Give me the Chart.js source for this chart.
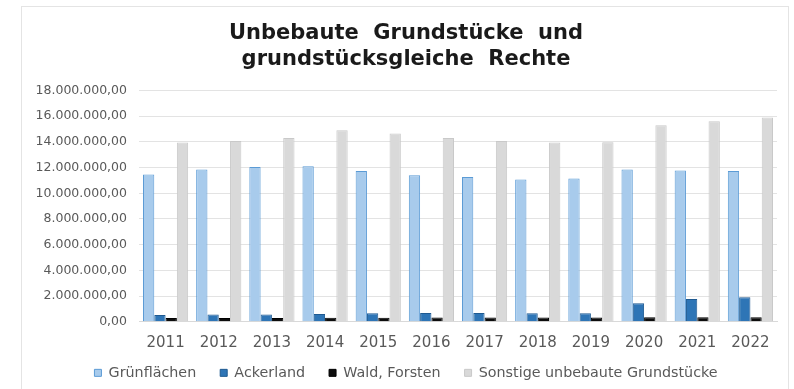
<!DOCTYPE html>
<html>
<head>
<meta charset="utf-8">
<script src="https://cdn.jsdelivr.net/npm/chart.js@4.4.0/dist/chart.umd.min.js"></script>
<style>
  body { margin: 0; background: #fff; }
  #frame { position: absolute; left: 21px; top: 6px; width: 766px; height: 382px; border: 1px solid #e4e4e4; }
  #wrap { position: absolute; left: 0; top: 0; width: 794px; height: 389px; }
</style>
</head>
<body>
<div id="frame"></div>
<div id="wrap"><canvas id="chart" width="794" height="389"></canvas></div>
<script>
// Jahre
const years = ["2011", "2012", "2013", "2014", "2015", "2016", "2017", "2018", "2019", "2020", "2021", "2022"];

// Werte
const gruenflaechen = [11460000, 11850000, 12050000, 12100000, 11740000, 11400000, 11270000, 11070000, 11150000, 11850000, 11770000, 11740000];
const ackerland = [520000, 560000, 560000, 600000, 650000, 680000, 680000, 650000, 650000, 1430000, 1770000, 1900000];
const waldForsten = [290000, 290000, 290000, 300000, 300000, 320000, 320000, 320000, 320000, 340000, 340000, 340000];
const sonstige = [13960000, 14060000, 14300000, 14900000, 14650000, 14300000, 14060000, 13960000, 13980000, 15300000, 15600000, 15900000];

const titleLines = ["Unbebaute  Grundstücke  und", "grundstücksgleiche  Rechte"];

function fmt(v) {
    let s = Math.round(v).toString().replace(/\B(?=(\d{3})+(?!\d))/g, ".");
    return s + ",00";
}

// Legende rückt per negativem Abstand etwas nach oben, damit die Jahreszahlen nicht abgeschnitten werden
const legendShift = {
    id: "legendShift",
    afterLayout(chart) {
        const lg = chart.legend;
        if (lg) { lg.top -= 12; lg.bottom -= 12; }
    }
};

let ctx = document.getElementById("chart").getContext("2d");
new Chart(ctx, {
    type: "bar",
    data: {
        labels: years,
        datasets: [
            { label: "Grünflächen", data: gruenflaechen, backgroundColor: "#a8cbec", borderColor: "#5b9bd5", borderWidth: 1 },
            { label: "Ackerland", data: ackerland, backgroundColor: "#2e75b6", borderColor: "#1f5a91", borderWidth: 1 },
            { label: "Wald, Forsten", data: waldForsten, backgroundColor: "#0d0d0d", borderColor: "#000", borderWidth: 1 },
            { label: "Sonstige unbebaute Grundstücke", data: sonstige, backgroundColor: "#d9d9d9", borderColor: "#c9c9c9", borderWidth: 1 }
        ]
    },
    options: {
        responsive: false,
        animation: false,
        layout: { padding: { left: 35, right: 17, top: 20, bottom: -13 } },
        datasets: { bar: { categoryPercentage: 0.85, barPercentage: 1.0 } },
        plugins: {
            title: {
                display: true,
                text: titleLines,
                color: "#1a1a1a",
                font: { family: "DejaVu Sans", size: 21, weight: "bold", lineHeight: 1.25 },
                padding: { top: 0, bottom: 18 }
            },
            legend: {
                position: "bottom",
                labels: {
                    color: "#595959",
                    font: { family: "DejaVu Sans", size: 14.3 },
                    boxWidth: 7,
                    boxHeight: 7,
                    padding: 24
                }
            },
            tooltip: { enabled: false }
        },
        scales: {
            x: {
                grid: { display: false, drawTicks: false },
                border: { color: "#d9d9d9" },
                afterFit: s => { s.height = 32; },
                ticks: { color: "#595959", font: { family: "DejaVu Sans", size: 15 }, padding: 12, maxRotation: 0 }
            },
            y: {
                min: 0,
                max: 18000000,
                grid: { color: "#e3e3e3", drawTicks: false },
                border: { display: false },
                afterFit: s => { s.width = 104; },
                ticks: {
                    stepSize: 2000000,
                    color: "#595959",
                    font: { family: "DejaVu Sans", size: 12.5 },
                    padding: 12,
                    callback: v => fmt(v)
                }
            }
        }
    },
    plugins: [legendShift]
});
</script>
</body>
</html>
